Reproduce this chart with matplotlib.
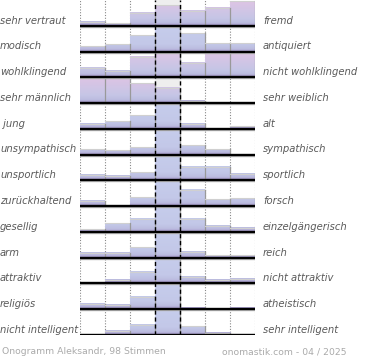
import numpy as np
import matplotlib.pyplot as plt
from matplotlib.colors import LinearSegmentedColormap

left_labels = ["sehr vertraut", "modisch", "wohlklingend", "sehr männlich", " jung",
               "unsympathisch", "unsportlich", "zurückhaltend", "gesellig", "arm",
               "attraktiv", "religiös", "nicht intelligent"]
right_labels = ["fremd", "antiquiert", "nicht wohlklingend", "sehr weiblich", "alt",
                "sympathisch", "sportlich", "forsch", "einzelgängerisch", "reich",
                "nicht attraktiv", "atheistisch", "sehr intelligent"]

# bar heights per row (7 steps), 25 = full row
heights = [
    [4, 2.7, 12.7, 20, 14.7, 17.7, 24],
    [5, 7.3, 16.3, 25, 18.3, 8.3, 8.3],
    [9, 6.3, 20, 25, 14, 24, 24],
    [24.3, 24.3, 19.3, 15, 2.3, 0, 0],
    [5, 7.3, 13.3, 25, 5, 0, 2.3],
    [5.6, 4.6, 7, 25, 9, 5.6, 0],
    [5.7, 4.3, 7.7, 25, 12.7, 12.7, 6],
    [5, 0, 8.7, 25, 15.7, 6.7, 7.7],
    [2.7, 8.7, 13, 25, 12.7, 6, 4],
    [5, 5, 10, 25, 6, 2.7, 2.7],
    [0.5, 3.3, 10.7, 25, 6, 3.3, 4],
    [5, 4, 12.3, 25, 1.3, 0.5, 1.3],
    [0.5, 4.3, 10, 25, 8.7, 2.3, 0.7],
]
pink_rows = [0, 2, 3]

footer_left = "Onogramm Aleksandr, 98 Stimmen"
footer_right = "onomastik.com - 04 / 2025"

W, H = 370, 360
fig = plt.figure(figsize=(W / 100, H / 100), dpi=100)
ax = fig.add_axes([80 / W, (H - 335) / H, 175 / W, 335 / H])
n = len(heights)
ax.set_xlim(0, 7)
ax.set_ylim(0, n)
ax.axis('off')

cmap_blue = LinearSegmentedColormap.from_list(
    'b', [(0, '#a596c8'), (0.12, '#bcbde0'), (0.3, '#c3c8e8'), (1, '#c6cdec')])
cmap_pink = LinearSegmentedColormap.from_list(
    'p', [(0, '#a596c8'), (0.12, '#bcbde0'), (0.3, '#c6c6e6'), (1, '#dfc4e4')])

# center column background
ax.axvspan(3, 4, color='#eeeeee', zorder=0)

for i, row in enumerate(heights):
    base = n - 1 - i
    cmap = cmap_pink if i in pink_rows else cmap_blue
    for j, h in enumerate(row):
        f = h / 25.0
        if f <= 0:
            continue
        grad = np.linspace(f, 0, 40)[:, None]
        ax.imshow(grad, extent=(j, j + 1, base, base + f), aspect='auto',
                  cmap=cmap, vmin=0, vmax=1, zorder=1, interpolation='bilinear')
        ax.plot([j, j + 1], [base + f, base + f], color='#d0d0d0', lw=0.8, zorder=2)
        ax.plot([j + 1, j + 1], [base, base + f], color='#999999', lw=0.9, zorder=2)
    ax.plot([0, 7], [base - 0.04, base - 0.04], color='#bbbbbb', lw=1, zorder=3)
    ax.plot([0, 7], [base, base], color='black', lw=1.7, zorder=4, solid_capstyle='butt')
    ax.text(-80 / 25, base + 0.2, left_labels[i], ha='left', va='center',
            fontsize=7.2, style='italic', color='#5a5a5a', clip_on=False)
    ax.text(7 + 8 / 25, base + 0.2, right_labels[i], ha='left', va='center',
            fontsize=7.2, style='italic', color='#5a5a5a', clip_on=False)

for x in [0, 1, 2, 5, 6, 7]:
    ax.axvline(x, color='#888888', lw=0.8, ls=(0, (1, 1.5)), zorder=0.5)
for x in [3, 4]:
    ax.axvline(x, color='black', lw=1, ls=(0, (3, 2)), zorder=5)

fig.text(2 / W, 1 - 352 / H, footer_left, ha='left', va='center',
         fontsize=6.7, color='#aaaaaa')
fig.text(347 / W, 1 - 352 / H, footer_right, ha='right', va='center',
         fontsize=6.7, color='#aaaaaa')

fig.savefig('out.png', dpi=100)
